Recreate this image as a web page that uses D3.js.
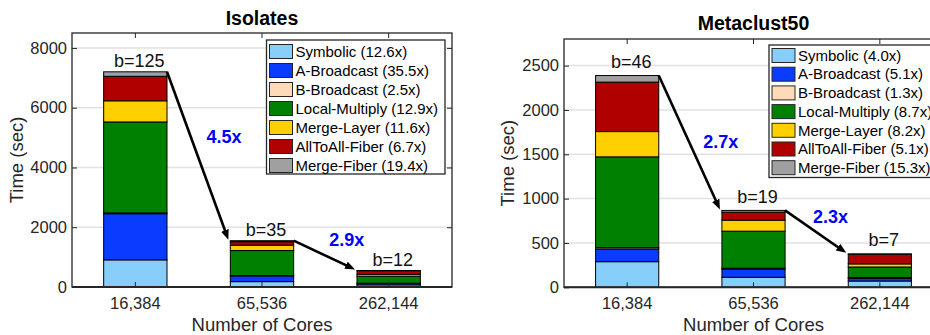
<!DOCTYPE html>
<html>
<head>
<meta charset="utf-8">
<script src="https://cdn.jsdelivr.net/npm/d3@7"></script>
<style>
  body { margin: 0; background: #fff; }
  svg { display: block; font-family: "Liberation Sans", Arial, Helvetica, sans-serif; }
</style>
</head>
<body>
<svg id="chart" width="930" height="335"></svg>
<script>
// Core counts on the x axis and the phases that make up each stacked bar
const cores = ["16,384", "65,536", "262,144"];
const phases = ["Symbolic", "A-Broadcast", "B-Broadcast", "Local-Multiply", "Merge-Layer", "AllToAll-Fiber", "Merge-Fiber"];
const phaseColors = ["#87cefa", "#0a3cff", "#ffdab9", "#008000", "#ffd000", "#b00000", "#a0a0a0"];

// Isolates: time (sec) per phase at each core count
const isoSymbolic      = [908, 180, 72];
const isoABroadcast    = [1545, 190, 44];
const isoBBroadcast    = [25, 15, 10];
const isoLocalMultiply = [3046, 835, 236];
const isoMergeLayer    = [707, 180, 61];
const isoAllToAllFiber = [820, 115, 122];
const isoMergeFiber    = [150, 35, 8];
const isoPhaseSpeedups = ["12.6x", "35.5x", "2.5x", "12.9x", "11.6x", "6.7x", "19.4x"];
const isoBatches       = ["b=125", "b=35", "b=12"];
const isoStepSpeedups  = ["4.5x", "2.9x"];
const isoYTicks        = [0, 2000, 4000, 6000, 8000];

// Metaclust50: time (sec) per phase at each core count
const metaSymbolic      = [289, 113, 71];
const metaABroadcast    = [143, 90, 28];
const metaBBroadcast    = [15, 12, 12];
const metaLocalMultiply = [1024, 418, 118];
const metaMergeLayer    = [285, 124, 35];
const metaAllToAllFiber = [558, 90, 108];
const metaMergeFiber    = [74, 20, 5];
const metaPhaseSpeedups = ["4.0x", "5.1x", "1.3x", "8.7x", "8.2x", "5.1x", "15.3x"];
const metaBatches       = ["b=46", "b=19", "b=7"];
const metaStepSpeedups  = ["2.7x", "2.3x"];
const metaYTicks        = [0, 500, 1000, 1500, 2000, 2500];

const svg = d3.select("#chart");
const axisColor = "#262626";

// arrowhead shared by both panels
svg.append("defs").append("marker")
  .attr("id", "head")
  .attr("viewBox", "0 0 10 8")
  .attr("refX", 4).attr("refY", 4)
  .attr("markerWidth", 10).attr("markerHeight", 8)
  .attr("markerUnits", "userSpaceOnUse")
  .attr("orient", "auto")
  .append("path").attr("d", "M0,0 L10,4 L0,8 Z").attr("fill", "#000");

function drawPanel(p) {
  const g = svg.append("g");
  const { l, t, r, b } = p.box;

  const x = d3.scaleBand().domain(cores).range([l, r]).paddingInner(0.5).paddingOuter(0.25);
  const y = d3.scaleLinear().domain([0, p.yMax]).range([b, t]);
  const xc = c => x(c) + x.bandwidth() / 2;
  // continuous position along the category axis (1 = first core count)
  const xPos = d3.scaleLinear().domain([1, 3]).range([xc(cores[0]), xc(cores[2])]);

  // horizontal grid
  g.append("g").selectAll("line").data(p.yTicks.filter(v => v > 0)).join("line")
    .attr("x1", l).attr("x2", r)
    .attr("y1", d => y(d)).attr("y2", d => y(d))
    .attr("stroke", "#e2e2e2").attr("stroke-width", 1.5);

  // stacked bars
  const rows = cores.map((c, i) => {
    const row = { core: c };
    phases.forEach((ph, k) => { row[ph] = p.series[k][i]; });
    return row;
  });
  const stacked = d3.stack().keys(phases)(rows);
  g.append("g").selectAll("g").data(stacked).join("g")
    .attr("fill", (d, k) => phaseColors[k])
    .selectAll("rect").data(d => d).join("rect")
    .attr("x", d => x(d.data.core))
    .attr("width", x.bandwidth())
    .attr("y", d => y(d[1]))
    .attr("height", d => y(d[0]) - y(d[1]))
    .attr("stroke", "#000").attr("stroke-width", 1);

  const totals = rows.map(row => d3.sum(phases, ph => row[ph]));

  // axes with inward ticks on all four sides
  const styleAxis = sel => {
    sel.select(".domain").remove();
    sel.selectAll(".tick line").attr("stroke", axisColor).attr("stroke-width", 1);
    sel.selectAll(".tick text").attr("fill", axisColor).style("font-size", "16.5px")
      .style("font-family", "'Liberation Sans', Arial, sans-serif");
  };
  g.append("g").attr("transform", `translate(0,${b})`)
    .call(d3.axisBottom(x).tickSizeInner(-5).tickSizeOuter(0).tickPadding(10)).call(styleAxis);
  g.append("g").attr("transform", `translate(0,${t})`)
    .call(d3.axisTop(x).tickSizeInner(-5).tickSizeOuter(0).tickFormat("")).call(styleAxis);
  g.append("g").attr("transform", `translate(${l},0)`)
    .call(d3.axisLeft(y).tickValues(p.yTicks).tickFormat(d3.format("d"))
      .tickSizeInner(-5).tickSizeOuter(0).tickPadding(5)).call(styleAxis);
  g.append("g").attr("transform", `translate(${r},0)`)
    .call(d3.axisRight(y).tickValues(p.yTicks).tickFormat("")
      .tickSizeInner(-5).tickSizeOuter(0)).call(styleAxis);

  // plot box
  g.append("rect").attr("x", l).attr("y", t).attr("width", r - l).attr("height", b - t)
    .attr("fill", "none").attr("stroke", axisColor).attr("stroke-width", 1.3);
  g.append("line").attr("x1", l).attr("x2", r).attr("y1", b).attr("y2", b)
    .attr("stroke", axisColor).attr("stroke-width", 2);

  // batch labels above bars
  g.append("g").selectAll("text").data(p.batches).join("text")
    .attr("x", (d, i) => xc(cores[i]) + 4)
    .attr("y", (d, i) => y(totals[i]) - p.batchGap)
    .attr("text-anchor", "middle").attr("dy", "0.35em")
    .style("font-size", "18px").attr("fill", "#111")
    .text(d => d);

  // arrows between consecutive bar tops
  p.steps.forEach((s, i) => {
    const x1 = x(cores[i]) + x.bandwidth(), y1 = y(totals[i]);
    const x2 = x(cores[i + 1]) - 2, y2 = y(totals[i + 1]) - 1;
    const len = Math.hypot(x2 - x1, y2 - y1);
    const ex = x2 - (x2 - x1) / len * 6, ey = y2 - (y2 - y1) / len * 6;
    g.append("line").attr("x1", x1).attr("y1", y1).attr("x2", ex).attr("y2", ey)
      .attr("stroke", "#000").attr("stroke-width", 2.6).attr("marker-end", "url(#head)");
    const [ax, ay] = p.stepAt[i];
    g.append("text").attr("x", xPos(ax)).attr("y", y(ay))
      .attr("text-anchor", "middle").attr("dy", "0.35em")
      .style("font-size", "18px").style("font-weight", "bold").attr("fill", "#0000ff")
      .text(s);
  });

  // legend
  const lg = g.append("g");
  lg.append("rect").attr("x", p.legend.x).attr("y", p.legend.y)
    .attr("width", p.legend.w).attr("height", p.legend.h)
    .attr("fill", "#fff").attr("stroke", axisColor).attr("stroke-width", 1.3);
  const items = lg.selectAll("g").data(phases).join("g")
    .attr("transform", (d, k) => `translate(${p.legend.x + 3},${p.legend.row0 + k * p.legend.step})`);
  items.append("rect").attr("x", 0).attr("y", -7).attr("width", 23).attr("height", 14)
    .attr("fill", (d, k) => phaseColors[k]).attr("stroke", axisColor).attr("stroke-width", 1);
  items.append("text").attr("x", 26).attr("dy", "0.35em")
    .style("font-size", "15px").attr("fill", "#000")
    .text((d, k) => `${d} (${p.speedups[k]})`);

  // titles
  g.append("text").attr("x", (l + r) / 2).attr("y", p.titleY).attr("dy", "0.35em")
    .attr("text-anchor", "middle").style("font-size", "19.5px").style("font-weight", "bold")
    .attr("fill", "#000").text(p.title);
  g.append("text").attr("transform", `translate(${p.yLabelX},${(t + b) / 2}) rotate(-90)`)
    .attr("dy", "0.35em").attr("text-anchor", "middle")
    .style("font-size", "18.5px").attr("fill", axisColor).text("Time (sec)");
  g.append("text").attr("x", (l + r) / 2).attr("y", 325).attr("dy", "0.35em")
    .attr("text-anchor", "middle").style("font-size", "18.5px").attr("fill", axisColor)
    .text("Number of Cores");
}

drawPanel({
  title: "Isolates",
  series: [isoSymbolic, isoABroadcast, isoBBroadcast, isoLocalMultiply, isoMergeLayer, isoAllToAllFiber, isoMergeFiber],
  speedups: isoPhaseSpeedups,
  batches: isoBatches,
  steps: isoStepSpeedups,
  yTicks: isoYTicks,
  yMax: 8500,
  box: { l: 72, t: 33, r: 452, b: 287 },
  titleY: 18,
  yLabelX: 17,
  batchGap: 11,
  stepAt: [[1.70, 5040], [2.67, 1580]],
  legend: { x: 266.5, y: 40, w: 178.5, h: 134, row0: 51.5, step: 19 }
});

drawPanel({
  title: "Metaclust50",
  series: [metaSymbolic, metaABroadcast, metaBBroadcast, metaLocalMultiply, metaMergeLayer, metaAllToAllFiber, metaMergeFiber],
  speedups: metaPhaseSpeedups,
  batches: metaBatches,
  steps: metaStepSpeedups,
  yTicks: metaYTicks,
  yMax: 2800,
  box: { l: 564, t: 39, r: 943, b: 287.3 },
  titleY: 23,
  yLabelX: 508,
  batchGap: 14,
  stepAt: [[1.74, 1643], [2.61, 797]],
  legend: { x: 769, y: 45, w: 180, h: 132.5, row0: 55.5, step: 18.7 }
});
</script>
</body>
</html>
